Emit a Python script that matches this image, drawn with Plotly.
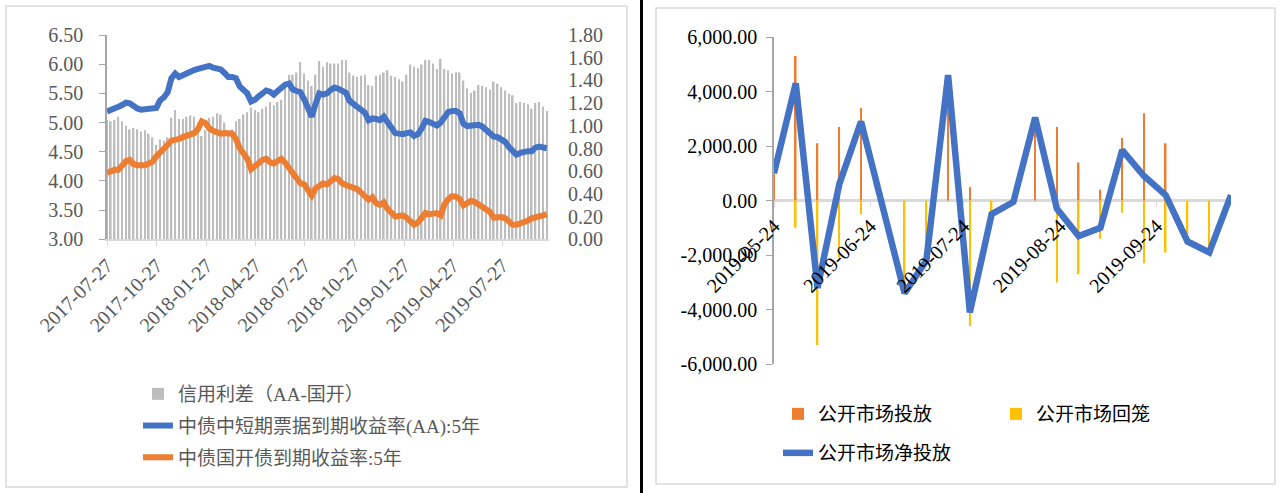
import pandas as pd
import plotly.graph_objects as go

# ---------------- Left chart: weekly yields and credit spread ----------------
start_date = "2017-07-27"

# 中债中短期票据到期收益率(AA):5年 (left axis, %)
mtn_aa_5y = [5.19, 5.21, 5.24, 5.27, 5.30, 5.34, 5.33, 5.27, 5.24, 5.22,
             5.23, 5.23, 5.23, 5.25, 5.38, 5.43, 5.52, 5.76, 5.84, 5.78,
             5.81, 5.85, 5.88, 5.90, 5.92, 5.93, 5.95, 5.97, 5.94, 5.93,
             5.91, 5.85, 5.78, 5.78, 5.76, 5.62, 5.57, 5.50, 5.36, 5.39,
             5.45, 5.51, 5.55, 5.53, 5.48, 5.54, 5.61, 5.65, 5.67, 5.57,
             5.54, 5.52, 5.40, 5.22, 5.10, 5.32, 5.50, 5.48, 5.50, 5.56,
             5.60, 5.58, 5.54, 5.51, 5.37, 5.32, 5.29, 5.24, 5.17, 5.04,
             5.07, 5.06, 5.04, 5.10, 5.01, 4.90, 4.82, 4.81, 4.80, 4.82,
             4.83, 4.77, 4.80, 4.90, 5.03, 5.01, 4.99, 4.95, 5.00, 5.10,
             5.18, 5.20, 5.20, 5.16, 4.98, 4.94, 4.95, 4.95, 4.96, 4.93,
             4.87, 4.79, 4.76, 4.75, 4.72, 4.67, 4.58, 4.52, 4.45, 4.48,
             4.50, 4.51, 4.51, 4.57, 4.59, 4.58, 4.56]

# 中债国开债到期收益率:5年 (left axis, %)
cdb_5y = [4.14, 4.17, 4.19, 4.19, 4.26, 4.34, 4.36, 4.29, 4.27, 4.27,
          4.27, 4.30, 4.33, 4.42, 4.50, 4.56, 4.62, 4.69, 4.70, 4.72,
          4.75, 4.77, 4.79, 4.82, 4.89, 5.02, 4.99, 4.90, 4.86, 4.82,
          4.81, 4.82, 4.82, 4.81, 4.72, 4.56, 4.47, 4.38, 4.20, 4.25,
          4.33, 4.36, 4.38, 4.32, 4.30, 4.33, 4.38, 4.31, 4.22, 4.12,
          4.07, 3.96, 3.94, 3.82, 3.75, 3.87, 3.93, 3.96, 3.94, 4.01,
          4.05, 4.03, 3.96, 3.93, 3.90, 3.88, 3.86, 3.80, 3.72, 3.68,
          3.72, 3.62, 3.59, 3.63, 3.52, 3.46, 3.39, 3.40, 3.41, 3.37,
          3.29, 3.25, 3.29, 3.36, 3.45, 3.43, 3.44, 3.45, 3.41, 3.60,
          3.69, 3.74, 3.73, 3.69, 3.58, 3.61, 3.66, 3.64, 3.60, 3.58,
          3.53, 3.47, 3.37, 3.38, 3.38, 3.36, 3.30, 3.25, 3.25, 3.27,
          3.30, 3.32, 3.36, 3.37, 3.38, 3.41, 3.43]

# 信用利差（AA-国开） (right axis, %)
credit_spread = [1.05, 1.04, 1.05, 1.08, 1.04, 1.00, 0.97, 0.98, 0.97, 0.95,
                 0.96, 0.93, 0.90, 0.83, 0.88, 0.87, 0.90, 1.07, 1.14, 1.06,
                 1.06, 1.08, 1.09, 1.08, 1.03, 0.91, 0.96, 1.07, 1.08, 1.11,
                 1.10, 1.03, 0.96, 0.97, 1.04, 1.06, 1.10, 1.12, 1.16, 1.14,
                 1.12, 1.15, 1.17, 1.21, 1.18, 1.21, 1.23, 1.34, 1.45, 1.45,
                 1.47, 1.56, 1.46, 1.40, 1.35, 1.45, 1.57, 1.52, 1.56, 1.55,
                 1.55, 1.55, 1.58, 1.58, 1.47, 1.44, 1.43, 1.44, 1.45, 1.36,
                 1.35, 1.44, 1.45, 1.47, 1.49, 1.44, 1.43, 1.41, 1.39, 1.45,
                 1.54, 1.52, 1.51, 1.54, 1.58, 1.58, 1.55, 1.50, 1.59, 1.50,
                 1.49, 1.46, 1.47, 1.47, 1.40, 1.33, 1.29, 1.31, 1.36, 1.35,
                 1.34, 1.32, 1.39, 1.37, 1.34, 1.31, 1.28, 1.27, 1.20, 1.21,
                 1.20, 1.19, 1.15, 1.20, 1.21, 1.17, 1.13]

left_dates = pd.date_range(start_date, periods=len(mtn_aa_5y), freq="7D")

left_tick_labels = ["2017-07-27", "2017-10-27", "2018-01-27", "2018-04-27",
                    "2018-07-27", "2018-10-27", "2019-01-27", "2019-04-27",
                    "2019-07-27"]
left_yield_ticks = [3.0, 3.5, 4.0, 4.5, 5.0, 5.5, 6.0, 6.5]
spread_ticks = [0.0, 0.2, 0.4, 0.6, 0.8, 1.0, 1.2, 1.4, 1.6, 1.8]

# ---------------- Right chart: weekly open market operations ----------------
omo_dates = ["2019-05-24", "2019-05-31", "2019-06-07", "2019-06-14",
             "2019-06-21", "2019-06-28", "2019-07-05", "2019-07-12",
             "2019-07-19", "2019-07-26", "2019-08-02", "2019-08-09",
             "2019-08-16", "2019-08-23", "2019-08-30", "2019-09-06",
             "2019-09-13", "2019-09-20", "2019-09-27", "2019-10-04",
             "2019-10-11", "2019-10-18"]
omo_injection = [1000, 5300, 2100, 2700, 3400, 0, 0, 0, 4600, 500, 0,
                 0, 3050, 2700, 1400, 400, 2300, 3200, 2100, 0, 0, 200]
omo_withdrawal = [0, -1000, -5300, -2100, -500, -300, -3400, -2200, 0, -4600, -500,
                  -50, 0, -3000, -2700, -1400, -450, -2300, -1900, -1500, -1900, 0]
omo_net = [1000, 4300, -3200, 600, 2900, -300, -3400, -2200, 4600, -4100, -500,
           -50, 3050, -300, -1300, -1000, 1850, 900, 200, -1500, -1900, 200]

omo_tick_dates = ["2019-05-24", "2019-06-24", "2019-07-24", "2019-08-24", "2019-09-24"]
omo_value_ticks = [6000, 4000, 2000, 0, -2000, -4000, -6000]
omo_value_labels = ["6,000.00", "4,000.00", "2,000.00", "0.00",
                    "-2,000.00", "-4,000.00", "-6,000.00"]

# ---------------- Styling ----------------
W, H = 1284, 493
FONT = "Liberation Serif, Noto Sans CJK SC, serif"
GREY_TEXT = "#595959"
BLUE = "#4472C4"
ORANGE = "#ED7D31"
YELLOW = "#FFC000"
DAY_MS = 86400000


def px_x(px):
    return px / W


def px_y(py):
    return 1 - py / H


fig = go.Figure()

# left chart: spread bars on the base axis (right side), yields overlaid
fig.add_trace(go.Bar(
    x=left_dates, y=credit_spread, name="信用利差（AA-国开）",
    marker=dict(color="#BDBDBD", line=dict(width=0)),
    width=3.0 * DAY_MS, xaxis="x", yaxis="y",
    legend="legend", legendgroup="spread",
))
fig.add_trace(go.Scatter(
    x=left_dates, y=mtn_aa_5y, name="中债中短期票据到期收益率(AA):5年",
    mode="lines", line=dict(color=BLUE, width=6),
    xaxis="x", yaxis="y2", legend="legend", legendgroup="mtn",
))
fig.add_trace(go.Scatter(
    x=left_dates, y=cdb_5y, name="中债国开债到期收益率:5年",
    mode="lines", line=dict(color=ORANGE, width=6),
    xaxis="x", yaxis="y2", legend="legend", legendgroup="cdb",
))

# right chart: injections / withdrawals and net injection
fig.add_trace(go.Bar(
    x=omo_dates, y=omo_injection, name="公开市场投放",
    marker=dict(color=ORANGE, line=dict(width=0)),
    width=0.5 * DAY_MS, xaxis="x2", yaxis="y3", legend="legend2",
))
fig.add_trace(go.Bar(
    x=omo_dates, y=omo_withdrawal, name="公开市场回笼",
    marker=dict(color=YELLOW, line=dict(width=0)),
    width=0.5 * DAY_MS, xaxis="x2", yaxis="y3", legend="legend2",
))
fig.add_trace(go.Scatter(
    x=omo_dates, y=omo_net, name="公开市场净投放",
    mode="lines", line=dict(color=BLUE, width=6.5),
    xaxis="x2", yaxis="y3", legend="legend3",
))

left_dom_x = [px_x(107), px_x(549)]
left_dom_y = [px_y(239.3), px_y(35)]
right_dom_x = [px_x(774), px_x(1231)]
right_dom_y = [px_y(364.2), px_y(37)]

axis_font = dict(family=FONT, size=20, color=GREY_TEXT)

fig.update_layout(
    width=W, height=H, autosize=False,
    margin=dict(l=0, r=0, t=0, b=0, pad=0, autoexpand=False),
    paper_bgcolor="white", plot_bgcolor="rgba(0,0,0,0)",
    barmode="relative",
    font=dict(family=FONT, size=20, color=GREY_TEXT),
    xaxis=dict(
        domain=left_dom_x, anchor="y", type="date", automargin=False,
        range=["2017-07-27", "2019-10-21"],
        tickvals=left_tick_labels, ticktext=left_tick_labels,
        tickangle=-45, tickfont=axis_font,
        showline=True, linecolor="#D9D9D9", linewidth=1.5,
        ticks="outside", ticklen=5, tickcolor="#D9D9D9",
        showgrid=False, zeroline=False,
    ),
    yaxis=dict(
        domain=left_dom_y, anchor="x", side="right", automargin=False,
        range=[0, 1.8], tickvals=spread_ticks, tickformat=".2f",
        tickfont=axis_font, showgrid=False, zeroline=False,
        showline=False, ticks="outside", ticklen=14,
        tickcolor="rgba(0,0,0,0)",
    ),
    yaxis2=dict(
        overlaying="y", anchor="x", side="left", automargin=False,
        range=[3.0, 6.5], tickvals=left_yield_ticks, tickformat=".2f",
        tickfont=axis_font, showgrid=False, zeroline=False,
        showline=True, linecolor="#A6A6A6", linewidth=1.5,
        ticks="outside", ticklen=6, tickcolor="#A6A6A6",
        ticklabelstandoff=12,
    ),
    xaxis2=dict(
        domain=right_dom_x, anchor="free", automargin=False,
        position=(right_dom_y[0] + right_dom_y[1]) / 2,
        type="date", range=["2019-05-24", "2019-10-18"],
        tickvals=omo_tick_dates, ticktext=omo_tick_dates,
        tickangle=-45, tickfont=dict(family=FONT, size=20, color="#000000"),
        showline=False, ticks="outside", ticklen=5, tickcolor="#D9D9D9",
        showgrid=False, zeroline=False,
    ),
    yaxis3=dict(
        domain=right_dom_y, anchor="x2", range=[-6000, 6000], automargin=False,
        tickvals=omo_value_ticks, ticktext=omo_value_labels,
        tickfont=dict(family=FONT, size=20, color="#000000"),
        showgrid=False, zeroline=True, zerolinecolor="#D9D9D9", zerolinewidth=2.5,
        showline=True, linecolor="#A6A6A6", linewidth=1.5,
        ticks="outside", ticklen=6, tickcolor="#A6A6A6",
        ticklabelstandoff=5,
    ),
    legend=dict(
        x=px_x(138), y=px_y(375), xanchor="left", yanchor="top",
        orientation="v", tracegroupgap=4, bgcolor="rgba(0,0,0,0)",
        font=dict(family=FONT, size=19, color=GREY_TEXT),
    ),
    legend2=dict(
        x=px_x(778), y=px_y(395), xanchor="left", yanchor="top",
        orientation="h", entrywidth=173, bgcolor="rgba(0,0,0,0)",
        font=dict(family=FONT, size=19, color="#000000"),
    ),
    legend3=dict(
        x=px_x(778), y=px_y(434), xanchor="left", yanchor="top",
        orientation="h", bgcolor="rgba(0,0,0,0)",
        font=dict(family=FONT, size=19, color="#000000"),
    ),
    shapes=[
        # panel frames and the divider between them
        dict(type="rect", xref="paper", yref="paper",
             x0=px_x(6), x1=px_x(627), y0=px_y(487), y1=px_y(6),
             line=dict(color="#D9D9D9", width=1.5), layer="below"),
        dict(type="rect", xref="paper", yref="paper",
             x0=px_x(656), x1=px_x(1275), y0=px_y(484), y1=px_y(8),
             line=dict(color="#D9D9D9", width=1.5), layer="below"),
        dict(type="line", xref="paper", yref="paper",
             x0=px_x(641.5), x1=px_x(641.5), y0=0, y1=1,
             line=dict(color="#000000", width=3)),
    ],
)

fig.write_html("out.html")
